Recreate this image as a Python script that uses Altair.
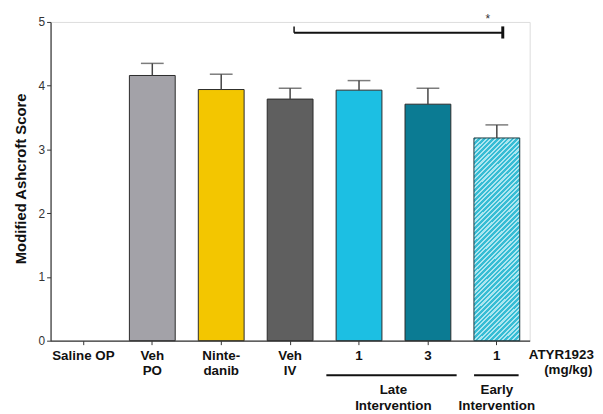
import altair as alt
import pandas as pd

# ---- data ----
categories = ["Saline OP", "Veh PO", "Nintedanib", "Veh IV", "1 Late", "3 Late", "1 Early"]
tick_labels = ["Saline OP", "Veh|PO", "Ninte-|danib", "Veh|IV", "1", "3", "1"]
means = [None, 4.16, 3.94, 3.79, 3.93, 3.71, 3.18]
sems = [None, 0.19, 0.24, 0.17, 0.15, 0.25, 0.205]
bar_colors = ["#ffffff", "#a3a2a8", "#f3c600", "#5f5f5f", "#1cbfe3", "#0b7b93", "#36bcd4"]
hatched = [False, False, False, False, False, False, True]

bracket_from = ["Veh IV"]
bracket_to = ["1 Early"]
bracket_y = [4.83]
bracket_text = ["*"]

group_text = ["Late\nIntervention", "Early\nIntervention"]
group_first = ["1 Late", "1 Early"]
group_last = ["3 Late", "1 Early"]
unit_lines = ["ATYR1923", "(mg/kg)"]

FONT = "Liberation Sans"
FS = 13.5

df = pd.DataFrame({"cat": categories, "mean": means, "sem": sems, "hatch": hatched})
df["top"] = df["mean"] + df["sem"]

br = pd.DataFrame({"a": bracket_from, "b": bracket_to, "y": bracket_y, "t": bracket_text})
grp = pd.DataFrame({"t": group_text, "a": group_first, "b": group_last})

xscale = alt.Scale(domain=categories, paddingInner=0.335, paddingOuter=0.144)
yscale = alt.Scale(domain=[0, 5], nice=False)

label_expr = "split([{}][indexof([{}], datum.value)], '|')".format(
    ",".join("'" + s + "'" for s in tick_labels),
    ",".join("'" + s + "'" for s in categories),
)

x_axis = alt.Axis(
    title=None, labelExpr=label_expr, labelAngle=0, labelFont=FONT, labelFontSize=FS,
    labelFontWeight="bold", labelColor="#111", labelLineHeight=15, labelPadding=4,
    tickSize=4, tickColor="#333", domainColor="#333", domainWidth=1.2, labelBaseline="top",
)
y_axis = alt.Axis(
    title="Modified  Ashcroft Score", values=[0, 1, 2, 3, 4, 5], format="d", grid=False,
    labelFont=FONT, labelFontSize=12, labelColor="#333", labelPadding=2,
    tickSize=4, tickColor="#333", domainColor="#333", domainWidth=1.2,
    titleFont=FONT, titleFontSize=15, titleFontWeight="bold", titleColor="#111",
    titleX=-30, titleY=158, titleAngle=270, titleAlign="center", titleBaseline="middle",
)


def X(field):
    return alt.X(field, scale=xscale, axis=x_axis)


base = alt.Chart(df)

solid = base.transform_filter("!datum.hatch").mark_bar(stroke="#2a2a2a", strokeWidth=1).encode(
    x=X("cat:N"),
    y=alt.Y("mean:Q", scale=yscale, axis=y_axis),
    fill=alt.Fill("cat:N", scale=alt.Scale(domain=categories, range=bar_colors), legend=None),
)

N = 54
stops = []
for i in range(N):
    stops.append({"color": "#36bcd4", "offset": i / N})
    stops.append({"color": "#36bcd4", "offset": (i + 0.55) / N})
    stops.append({"color": "#ace6f0", "offset": (i + 0.55) / N})
    stops.append({"color": "#ace6f0", "offset": (i + 1) / N})
grad = {"gradient": "linear", "x1": 0, "y1": 0, "x2": 0.269, "y2": 1.2, "stops": stops}

hatch_bar = base.transform_filter("datum.hatch").mark_bar(
    fill=grad, stroke="#1f3a40", strokeWidth=1
).encode(x=X("cat:N"), y=alt.Y("mean:Q", scale=yscale, axis=y_axis))

err = base.mark_rule(color="#444", strokeWidth=1.5).encode(
    x=X("cat:N"), y=alt.Y("mean:Q", scale=yscale, axis=y_axis), y2="top:Q"
)
cap = base.mark_tick(color="#444", size=23, thickness=1.5).encode(
    x=X("cat:N"), y=alt.Y("top:Q", scale=yscale, axis=y_axis)
)

bchart = alt.Chart(br)
b_line = bchart.mark_rule(color="#111", strokeWidth=2, xOffset=4, x2Offset=6).encode(
    x=X("a:N"), x2="b:N", y=alt.Y("y:Q", scale=yscale, axis=y_axis)
)
b_left = bchart.mark_rule(color="#111", strokeWidth=1.5, xOffset=4).encode(
    x=X("a:N"), y=alt.Y("y:Q", scale=yscale, axis=y_axis), y2=alt.Y2(datum=4.93),
)
b_right = bchart.mark_rule(color="#111", strokeWidth=3, xOffset=6).encode(
    x=X("b:N"), y=alt.Y(datum=4.74, scale=yscale, axis=y_axis), y2=alt.Y2(datum=4.93),
)
b_star = bchart.mark_text(font=FONT, fontSize=12, color="#333", dx=-9, baseline="alphabetic").encode(
    x=X("b:N"), y=alt.Y(datum=4.99, scale=yscale, axis=y_axis), text="t:N"
)

gchart = alt.Chart(grp)
g_late = gchart.transform_filter("datum.a != datum.b").mark_rule(
    color="#111", strokeWidth=2, xOffset=-33, x2Offset=29
).encode(x=X("a:N"), x2="b:N", y=alt.value(357))
g_early = gchart.transform_filter("datum.a == datum.b").mark_rule(
    color="#111", strokeWidth=2, xOffset=-23, x2Offset=22
).encode(x=X("a:N"), x2="b:N", y=alt.value(357))
g_text_late = gchart.transform_filter("datum.a != datum.b").mark_text(
    font=FONT, fontSize=FS, fontWeight="bold", color="#111", lineBreak="\n", lineHeight=16,
    baseline="top", xOffset=34.7,
).encode(x=X("a:N"), y=alt.value(365), text="t:N")
g_text_early = gchart.transform_filter("datum.a == datum.b").mark_text(
    font=FONT, fontSize=FS, fontWeight="bold", color="#111", lineBreak="\n", lineHeight=16,
    baseline="top",
).encode(x=X("a:N"), y=alt.value(365), text="t:N")

unit1 = alt.Chart(pd.DataFrame({"t": [unit_lines[0]]})).mark_text(
    font=FONT, fontSize=FS, fontWeight="bold", color="#111", baseline="middle", align="center",
).encode(x=alt.value(516), y=alt.value(337), text="t:N")
unit2 = alt.Chart(pd.DataFrame({"t": [unit_lines[1]]})).mark_text(
    font=FONT, fontSize=FS, fontWeight="bold", color="#111", baseline="middle", align="center",
).encode(x=alt.value(523), y=alt.value(352), text="t:N")

chart = alt.layer(
    solid, hatch_bar, err, cap, b_line, b_left, b_right, b_star,
    g_late, g_early, g_text_late, g_text_early, unit1, unit2,
).properties(
    width=484, height=322,
    padding={"left": 43, "top": 12, "right": 66, "bottom": 74},
    autosize=alt.AutoSizeParams(type="none"),
).configure_view(stroke=None).configure(background="white")

chart.save("out.html", embed_options={"renderer": "svg", "actions": False})
